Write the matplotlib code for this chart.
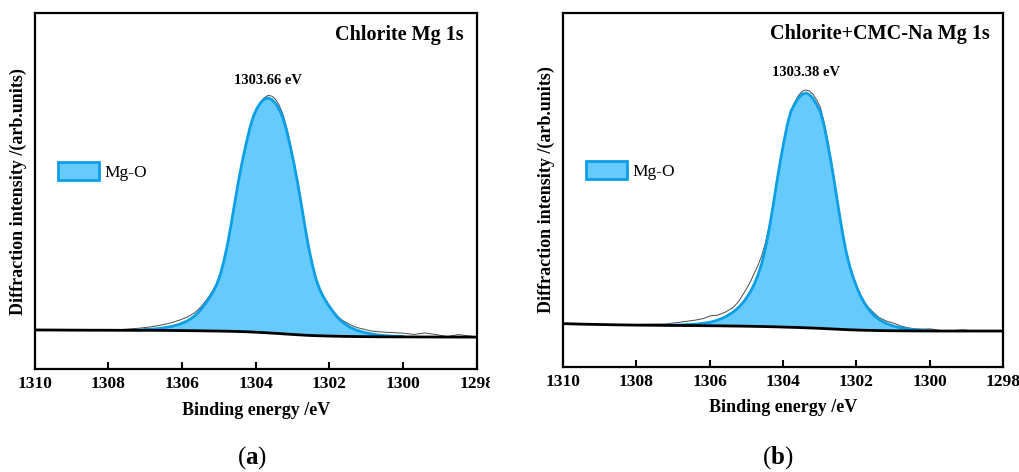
import matplotlib
matplotlib.use('Agg')
import matplotlib.pyplot as plt
import matplotlib.patches as mpatches
from matplotlib.transforms import Bbox, TransformedBbox
import numpy as np

plt.rcParams['font.family'] = ['Liberation Serif', 'DejaVu Serif']
plt.rcParams['mathtext.fontset'] = 'custom'
plt.rcParams['mathtext.rm'] = 'Liberation Serif'
plt.rcParams['mathtext.bf'] = 'Liberation Serif:bold'

# Mg 1s spectra, intensity in arb. units
titles = ['Chlorite Mg 1s', 'Chlorite+CMC-Na Mg 1s']
panel_tags = ['a', 'b']
component_name = 'Mg-O'
peak_centres = [1303.66, 1303.38]
x_ticks = [1310, 1308, 1306, 1304, 1302, 1300, 1298]

energy_a = [1310.0, 1309.5, 1309.0, 1308.5, 1308.0, 1307.6, 1307.2, 1306.9,
            1306.66, 1306.46, 1306.26, 1306.06, 1305.86,
            1305.66, 1305.56, 1305.46, 1305.36, 1305.26, 1305.16, 1305.06, 1304.96, 1304.86, 1304.76,
            1304.66, 1304.56, 1304.46, 1304.36, 1304.26, 1304.16, 1304.06, 1303.96, 1303.86, 1303.76,
            1303.66,
            1303.56, 1303.46, 1303.36, 1303.26, 1303.16, 1303.06, 1302.96, 1302.86, 1302.76, 1302.66,
            1302.56, 1302.46, 1302.36, 1302.26, 1302.16, 1302.06, 1301.96, 1301.86, 1301.76, 1301.66,
            1301.46, 1301.26, 1301.06, 1300.86, 1300.66,
            1300.46, 1300.26, 1300.0, 1299.7, 1299.4, 1299.1, 1298.8, 1298.5, 1298.0]
background_a = [11.0, 10.98, 10.95, 10.93, 10.92, 10.9, 10.9, 10.9,
                10.88, 10.87, 10.85, 10.83, 10.8,
                10.78, 10.77, 10.75, 10.74, 10.72, 10.71, 10.7, 10.68, 10.66, 10.64,
                10.62, 10.59, 10.56, 10.53, 10.5, 10.45, 10.4, 10.35, 10.3, 10.24,
                10.18,
                10.12, 10.05, 9.99, 9.92, 9.85, 9.78, 9.71, 9.65, 9.59, 9.53,
                9.48, 9.43, 9.39, 9.36, 9.33, 9.3, 9.28, 9.25, 9.23, 9.2,
                9.17, 9.14, 9.12, 9.1, 9.08,
                9.07, 9.06, 9.05, 9.04, 9.03, 9.02, 9.01, 9.0, 9.0]
mgo_a = [0, 0, 0, 0, 0, 0, 0.1, 0.3,
         0.5, 0.8, 1.2, 1.8, 2.7,
         4.1, 5.1, 6.3, 7.7, 9.2, 10.9, 13.0, 15.8, 19.8, 24.6,
         30.4, 36.6, 42.6, 48.0, 52.8, 57.2, 60.7, 63.0, 64.6, 65.6,
         66.0,
         65.6, 64.6, 63.0, 60.7, 57.2, 52.8, 48.0, 42.6, 36.6, 30.4,
         24.6, 19.8, 15.8, 13.0, 10.9, 9.2, 7.7, 6.3, 5.1, 4.1,
         2.7, 1.8, 1.2, 0.8, 0.5,
         0.3, 0.2, 0.1, 0, 0, 0, 0, 0, 0]
raw_a = [11.0, 10.98, 10.96, 10.95, 11.0, 11.15, 11.45, 11.8,
         12.2, 12.6, 13.1, 13.8, 14.6,
         15.8, 16.7, 17.8, 19.1, 20.5, 22.1, 24.1, 26.8, 30.7, 35.4,
         41.1, 47.2, 53.2, 58.5, 63.3, 67.7, 71.2, 73.5, 75.2, 76.3,
         76.9,
         76.7, 75.8, 74.1, 71.6, 67.9, 63.3, 58.3, 52.7, 46.5, 40.2,
         34.3, 29.4, 25.4, 22.6, 20.5, 18.8, 17.3, 15.9, 14.7, 13.8,
         12.6, 11.7, 11.2, 10.7, 10.5,
         10.35, 10.25, 10.1, 9.75, 10.15, 9.7, 9.15, 9.7, 9.05]

energy_b = [1310.0, 1309.5, 1309.0, 1308.5, 1308.0, 1307.6, 1307.2, 1306.8,
            1306.38, 1306.18, 1305.98, 1305.78, 1305.58,
            1305.38, 1305.28, 1305.18, 1305.08, 1304.98, 1304.88, 1304.78, 1304.68, 1304.58, 1304.48,
            1304.38, 1304.28, 1304.18, 1304.08, 1303.98, 1303.88, 1303.78, 1303.68, 1303.58, 1303.48,
            1303.38,
            1303.28, 1303.18, 1303.08, 1302.98, 1302.88, 1302.78, 1302.68, 1302.58, 1302.48, 1302.38,
            1302.28, 1302.18, 1302.08, 1301.98, 1301.88, 1301.78, 1301.68, 1301.58, 1301.48, 1301.38,
            1301.18, 1300.98, 1300.78, 1300.58, 1300.38,
            1300.18, 1299.98, 1299.7, 1299.4, 1299.1, 1298.8, 1298.5, 1298.0]
background_b = [12.2, 12.05, 11.95, 11.85, 11.78, 11.74, 11.7, 11.67,
                11.64, 11.62, 11.6, 11.58, 11.55,
                11.52, 11.51, 11.5, 11.48, 11.46, 11.44, 11.42, 11.4, 11.38, 11.36,
                11.33, 11.31, 11.28, 11.25, 11.22, 11.19, 11.16, 11.13, 11.1, 11.06,
                11.02,
                10.98, 10.94, 10.9, 10.85, 10.8, 10.75, 10.7, 10.65, 10.6, 10.55,
                10.5, 10.46, 10.42, 10.38, 10.35, 10.32, 10.3, 10.27, 10.25, 10.23,
                10.2, 10.18, 10.16, 10.14, 10.13,
                10.12, 10.11, 10.1, 10.1, 10.1, 10.1, 10.1, 10.1]
mgo_b = [0, 0, 0, 0, 0, 0, 0.05, 0.15,
         0.4, 0.65, 1.0, 1.6, 2.5,
         3.8, 4.6, 5.6, 6.8, 8.2, 9.9, 12.0, 14.6, 17.8, 22.0,
         27.4, 33.6, 40.2, 46.5, 52.2, 57.4, 61.2, 63.2, 64.9, 66.0,
         66.4,
         66.0, 64.9, 63.2, 61.2, 57.4, 52.2, 46.5, 40.2, 33.6, 27.4,
         22.0, 17.8, 14.6, 11.8, 9.5, 7.6, 6.1, 4.9, 3.9, 3.1,
         2.0, 1.3, 0.8, 0.5, 0.3,
         0.15, 0.08, 0, 0, 0, 0, 0, 0]
raw_b = [12.2, 12.05, 11.97, 11.9, 11.95, 12.05, 12.1, 12.6,
         13.2, 13.6, 14.4, 14.6, 15.4,
         16.6, 17.6, 18.9, 20.6, 22.3, 24.2, 26.5, 28.7, 31.4, 35.0,
         39.6, 45.3, 51.7, 57.9, 63.5, 68.7, 72.6, 74.8, 76.7, 77.9,
         78.3,
         78.0, 77.0, 75.4, 73.3, 69.2, 63.8, 57.9, 51.3, 44.5, 38.2,
         32.7, 28.5, 25.3, 22.5, 20.2, 18.3, 16.9, 15.8, 14.8, 13.9,
         12.9, 12.3, 11.5, 11.0, 10.7,
         10.65, 10.7, 10.25, 10.2, 10.45, 10.15, 10.25, 10.1]

panels = [(energy_a, background_a, mgo_a, raw_a), (energy_b, background_b, mgo_b, raw_b)]
label_heights = [81.2, 83.3]

fill_col = '#66CBFC'
edge_col = '#0A9FE6'

fig = plt.figure(figsize=(10.19, 4.72), dpi=100)
rects = [[0.0339, 0.218, 0.434, 0.754], [0.5522, 0.223, 0.4324, 0.749]]
tag_x = [0.247, 0.7635]
# each panel is cut off at its own half of the figure
panel_clip = [Bbox([[0, 0], [490 / 1019, 1]]), Bbox([[0, 0], [1, 1]])]

for i, (e, bg, comp, raw) in enumerate(panels):
    ax = fig.add_axes(rects[i])
    e = np.array(e)
    bg = np.array(bg)
    comp = np.array(comp)
    total = bg + comp

    # measured envelope under the fitted component, background on top
    ax.plot(e, raw, color='#4a4a4a', lw=0.7, zorder=2)
    ax.fill_between(e, bg, total, color=fill_col, lw=0, zorder=3)
    ax.plot(e, np.where(comp > 0, total, np.nan), color=edge_col, lw=2.0, zorder=4,
            solid_joinstyle='round')
    ax.plot(e, bg, color='black', lw=2.0, zorder=5)

    ax.set_xlim(1310, 1298)
    ax.set_ylim(0, 100)
    ax.set_xticks(x_ticks)
    ax.set_xticklabels([str(t) for t in x_ticks], fontweight='bold', fontsize=12.5)
    clip = TransformedBbox(panel_clip[i], fig.transFigure)
    for lbl in ax.get_xticklabels():
        lbl.set_clip_on(True)
        lbl.set_clip_box(clip)
    ax.set_yticks([])
    ax.tick_params(axis='x', direction='in', length=5, width=1.5, pad=5)
    for sp in ax.spines.values():
        sp.set_linewidth(1.6)

    ax.set_xlabel('Binding energy /eV', fontsize=13, fontweight='bold', va='center')
    ax.xaxis.set_label_coords(0.5, -0.115)
    ax.set_ylabel('Diffraction intensity /(arb.units)', fontsize=13, fontweight='bold',
                  va='center', ha='center')
    ax.yaxis.set_label_coords(-0.037, 0.5)

    ax.text(0.97, 0.94, titles[i], transform=ax.transAxes, ha='right', va='center',
            fontsize=14.5, fontweight='bold')
    ax.text(peak_centres[i], label_heights[i], f'{peak_centres[i]:.2f} eV', ha='center',
            va='center', fontsize=10.5, fontweight='bold')

    handle = mpatches.Patch(facecolor=fill_col, edgecolor=edge_col, lw=2.0, label=component_name)
    ax.legend(handles=[handle], loc='center left', bbox_to_anchor=(0.052, 0.556),
              frameon=False, fontsize=12.5, handlelength=2.4, handleheight=1.2,
              handletextpad=0.3, borderpad=0, borderaxespad=0)

    fig.text(tag_x[i], 0.03, '(' + r'$\mathbf{' + panel_tags[i] + '}$' + ')',
             ha='center', va='center', fontsize=18)

fig.savefig('out.png', dpi=100)
